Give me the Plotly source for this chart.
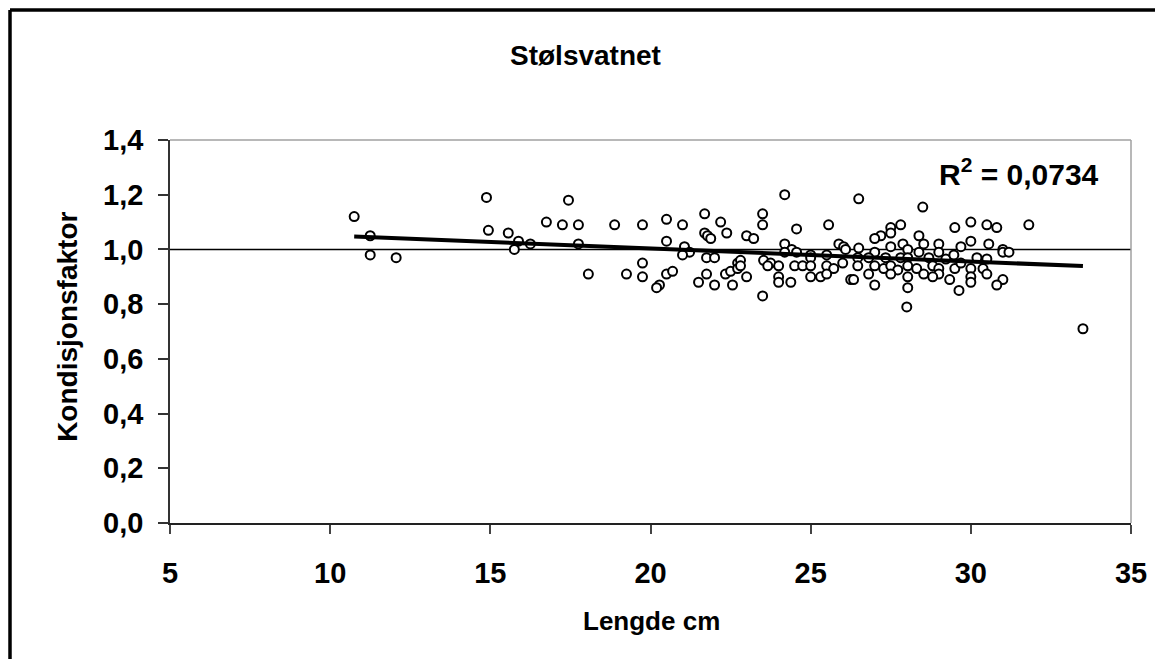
import numpy as np
import plotly.graph_objects as go

# Lengde (cm) and Kondisjonsfaktor
lengde = [10.75, 11.25, 11.25, 12.06, 14.88, 14.94, 15.56, 15.88, 15.75, 16.25,
          16.75, 17.25, 17.44, 17.75, 17.75, 18.06, 18.88, 19.25, 19.75, 20.5,
          21.0, 21.69, 22.19, 22.38, 21.69, 21.78, 21.88, 20.5, 21.06, 21.22,
          21.0, 21.75, 22.0, 19.75, 19.75, 20.5, 20.69, 20.28, 20.19, 21.5,
          21.75, 22.0, 22.34, 22.5, 22.56, 22.72, 22.72, 24.19, 23.5, 23.5,
          24.56, 25.56, 23.0, 23.22, 24.19, 24.41, 24.56, 24.19, 25.0, 25.0,
          25.5, 25.88, 26.03, 26.09, 26.0, 22.81, 22.81, 23.53, 23.75, 23.66,
          24.0, 24.0, 24.0, 24.38, 24.5, 24.75, 25.0, 25.5, 25.72, 25.0,
          25.31, 25.5, 23.0, 23.5, 26.25, 26.5, 28.5, 27.81, 27.5, 27.5,
          27.19, 27.0, 29.5, 28.38, 26.5, 27.0, 27.5, 27.88, 28.03, 28.53,
          29.0, 29.0, 28.38, 26.47, 26.81, 27.34, 27.81, 28.03, 28.69, 29.22,
          29.47, 26.47, 27.0, 27.28, 27.5, 27.72, 28.03, 28.31, 28.53, 28.81,
          29.0, 29.0, 29.5, 26.34, 26.81, 27.0, 27.5, 28.03, 28.03, 28.81,
          29.34, 29.63, 28.0, 30.0, 30.5, 30.81, 31.81, 30.0, 30.56, 29.69,
          31.0, 31.0, 31.19, 30.19, 30.5, 29.69, 30.0, 30.38, 30.0, 30.0,
          30.5, 31.0, 30.81, 33.5]
kondisjon = [1.12, 1.05, 0.98, 0.97, 1.19, 1.07, 1.06, 1.03, 1.00, 1.02,
             1.10, 1.09, 1.18, 1.09, 1.02, 0.91, 1.09, 0.91, 1.09, 1.11,
             1.09, 1.13, 1.10, 1.06, 1.06, 1.05, 1.04, 1.03, 1.01, 0.99,
             0.98, 0.97, 0.97, 0.95, 0.90, 0.91, 0.92, 0.87, 0.86, 0.88,
             0.91, 0.87, 0.91, 0.92, 0.87, 0.95, 0.93, 1.20, 1.13, 1.09,
             1.075, 1.09, 1.05, 1.04, 1.02, 1.00, 0.99, 0.99, 0.98, 0.97,
             0.98, 1.02, 1.01, 1.00, 0.95, 0.96, 0.94, 0.96, 0.95, 0.94,
             0.94, 0.90, 0.88, 0.88, 0.94, 0.94, 0.94, 0.94, 0.93, 0.90,
             0.90, 0.91, 0.90, 0.83, 0.89, 1.185, 1.155, 1.09, 1.08, 1.06,
             1.05, 1.04, 1.08, 1.05, 1.005, 0.99, 1.01, 1.02, 1.00, 1.02,
             1.02, 0.99, 0.99, 0.97, 0.97, 0.97, 0.97, 0.97, 0.97, 0.965,
             0.98, 0.94, 0.94, 0.93, 0.94, 0.925, 0.94, 0.93, 0.91, 0.94,
             0.93, 0.91, 0.93, 0.89, 0.91, 0.87, 0.91, 0.90, 0.86, 0.90,
             0.89, 0.85, 0.79, 1.10, 1.09, 1.08, 1.09, 1.03, 1.02, 1.01,
             1.00, 0.99, 0.99, 0.97, 0.965, 0.95, 0.93, 0.93, 0.90, 0.88,
             0.91, 0.89, 0.87, 0.71]

x_ticks = [5, 10, 15, 20, 25, 30, 35]
y_ticks = [0.0, 0.2, 0.4, 0.6, 0.8, 1.0, 1.2, 1.4]
ref_level = [1.0, 1.0]
ref_span = [5, 35]
title_text = "Stølsvatnet"
x_title = "Lengde cm"
y_title = "Kondisjonsfaktor"
r2_text = "R<sup>2</sup> = 0,0734"

FONT = "Arial, 'Liberation Sans', sans-serif"

xs = np.array(lengde)
ys = np.array(kondisjon)
slope, intercept = np.polyfit(xs, ys, 1)
trend_x = [xs.min(), xs.max()]
trend_y = [slope * v + intercept for v in trend_x]

fig = go.Figure()
fig.add_trace(go.Scatter(x=ref_span, y=ref_level, mode="lines",
                         line=dict(color="black", width=1.5),
                         hoverinfo="skip", showlegend=False))
fig.add_trace(go.Scatter(x=lengde, y=kondisjon, mode="markers",
                         marker=dict(symbol="circle", size=9, color="white",
                                     line=dict(color="black", width=2)),
                         showlegend=False))
fig.add_trace(go.Scatter(x=trend_x, y=trend_y, mode="lines",
                         line=dict(color="black", width=4),
                         hoverinfo="skip", showlegend=False))

# page has an 8px body margin; figure is sized/positioned to compensate
OFF = 8
W, H = 1163 - OFF, 659 - OFF
PL, PR, PT, PB = 170, 1131, 140, 523.3     # plot area in page pixels
L = PL - OFF
T = PT - OFF
R = W - (PR - OFF)
B = H - (PB - OFF)
pw = W - L - R
ph = H - T - B


def px(xp):
    return (xp - OFF - L) / pw


def py(yp):
    return (H - B - (yp - OFF)) / ph


fig.update_layout(
    width=W, height=H,
    margin=dict(l=L, r=R, t=T, b=B, autoexpand=False),
    paper_bgcolor="white", plot_bgcolor="white",
    separators=", ",
    font=dict(family=FONT, color="black"),
    xaxis=dict(range=[5, 35], tickvals=x_ticks, showgrid=False, zeroline=False,
               showline=True, linecolor="#222222", linewidth=1.5,
               ticks="outside", ticklen=9, tickwidth=1.5, tickcolor="#444444",
               tickfont=dict(size=29, family=FONT, color="black", weight="bold"),
               ticklabelstandoff=14, fixedrange=True),
    yaxis=dict(range=[0, 1.4], tickvals=y_ticks, tickformat=".1f",
               showgrid=False, zeroline=False,
               showline=True, linecolor="#333333", linewidth=1.5,
               ticks="outside", ticklen=10, tickwidth=1.5, tickcolor="#333333",
               tickfont=dict(size=29, family=FONT, color="black", weight="bold"),
               ticklabelstandoff=9, fixedrange=True),
    shapes=[
        # plot area gray border (top & right)
        dict(type="line", xref="paper", yref="paper", x0=0, x1=1, y0=1, y1=1,
             line=dict(color="#a0a0a0", width=1.5)),
        dict(type="line", xref="paper", yref="paper", x0=1, x1=1, y0=0, y1=1,
             line=dict(color="#a0a0a0", width=1.5)),
        # outer chart frame (left & top visible)
        dict(type="line", xref="paper", yref="paper", x0=px(10), x1=px(10),
             y0=py(10), y1=py(670), line=dict(color="black", width=3.5)),
        dict(type="line", xref="paper", yref="paper", x0=px(10), x1=px(1175),
             y0=py(10), y1=py(10), line=dict(color="black", width=3.5)),
    ],
    annotations=[
        dict(text=f"<b>{title_text}</b>", xref="paper", yref="paper",
             x=px(585), y=py(55), xanchor="center", yanchor="middle",
             showarrow=False, font=dict(size=28, family=FONT, color="black")),
        dict(text=f"<b>{x_title}</b>", xref="paper", yref="paper",
             x=px(651), y=py(621), xanchor="center", yanchor="middle",
             showarrow=False, font=dict(size=26, family=FONT, color="black")),
        dict(text=f"<b>{y_title}</b>", xref="paper", yref="paper",
             x=px(68), y=py(327), xanchor="center", yanchor="middle",
             textangle=-90, showarrow=False,
             font=dict(size=28, family=FONT, color="black")),
        dict(text=f"<b>{r2_text}</b>", xref="paper", yref="paper",
             x=px(937), y=py(172), xanchor="left", yanchor="middle",
             showarrow=False, font=dict(size=30, family=FONT, color="black")),
    ],
)

fig.write_html("out.html")
